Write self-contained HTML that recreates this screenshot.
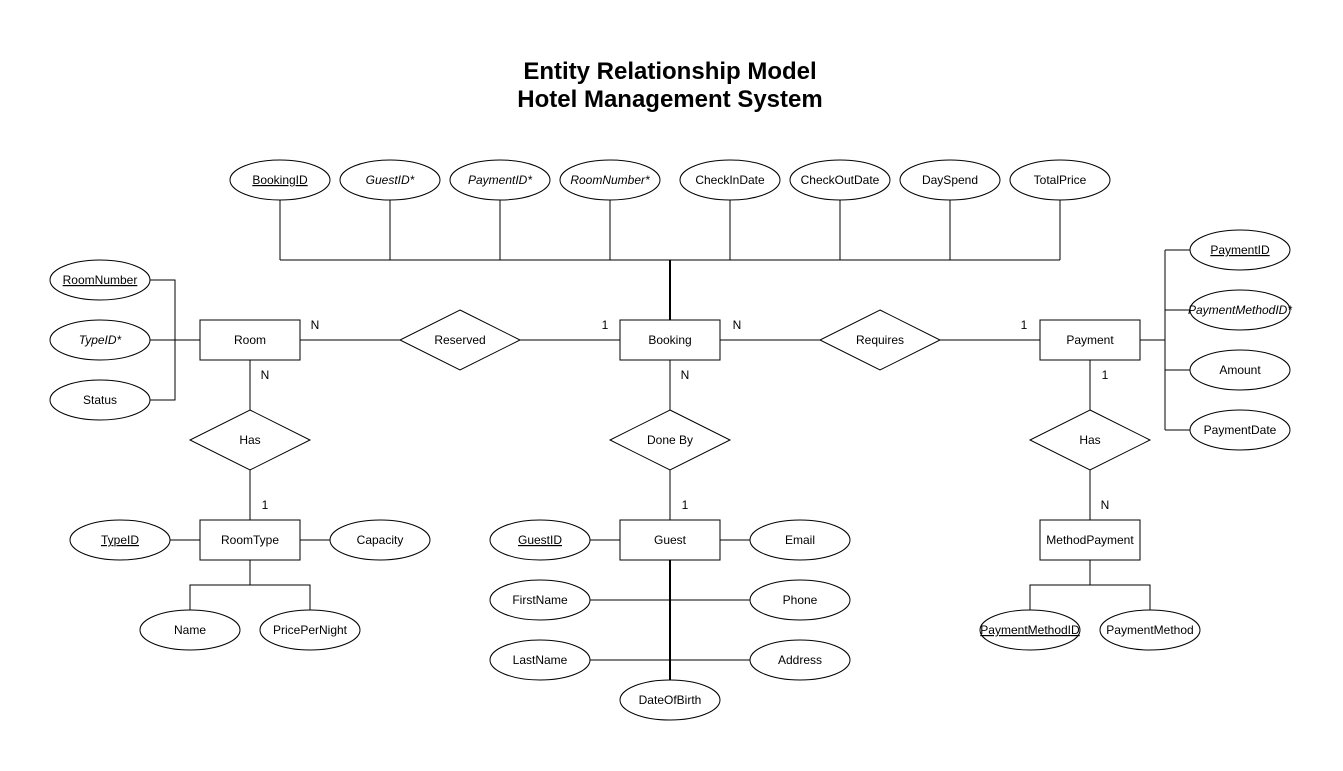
<!DOCTYPE html>
<html><head><meta charset="utf-8"><style>
html,body{margin:0;padding:0;background:#fff;}
svg{display:block;font-family:"Liberation Sans",Arial,sans-serif;}
text{font-size:12px;fill:#000;}
</style></head><body>
<svg width="1343" height="771" viewBox="0 0 1343 771" xmlns="http://www.w3.org/2000/svg">
<rect width="1343" height="771" fill="#fff"/>
<text x="670" y="79" text-anchor="middle" style="font-size:24px;font-weight:bold">Entity Relationship Model</text>
<text x="670" y="107" text-anchor="middle" style="font-size:24px;font-weight:bold">Hotel Management System</text>
<g stroke="#000" stroke-width="1" fill="none">
<path d="M280 200V260M390 200V260M500 200V260M610 200V260M730 200V260M840 200V260M950 200V260M1060 200V260M280 260H1060"/>
<path d="M670 260V320" stroke-width="2"/>
<path d="M300 340H400M520 340H620M720 340H820M940 340H1040"/>
<path d="M150 280H175V400H150M150 340H200"/>
<path d="M250 360V410M250 470V520M170 540H200M300 540H330M250 560V585M190 610V585H310V610"/>
<path d="M670 360V410M670 470V520M590 540H620M720 540H750M590 600H750M590 660H750"/>
<path d="M670 560V680" stroke-width="2"/>
<path d="M1140 340H1165M1165 250V430M1165 250H1190M1165 310H1190M1165 370H1190M1165 430H1190"/>
<path d="M1090 360V410M1090 470V520M1090 560V585M1030 610V585H1150V610"/>
</g>
<g stroke="#000" stroke-width="1" fill="#fff">
<ellipse cx="280" cy="180" rx="50" ry="20"/><ellipse cx="390" cy="180" rx="50" ry="20"/>
<ellipse cx="500" cy="180" rx="50" ry="20"/><ellipse cx="610" cy="180" rx="50" ry="20"/>
<ellipse cx="730" cy="180" rx="50" ry="20"/><ellipse cx="840" cy="180" rx="50" ry="20"/>
<ellipse cx="950" cy="180" rx="50" ry="20"/><ellipse cx="1060" cy="180" rx="50" ry="20"/>
<ellipse cx="100" cy="280" rx="50" ry="20"/><ellipse cx="100" cy="340" rx="50" ry="20"/><ellipse cx="100" cy="400" rx="50" ry="20"/>
<ellipse cx="120" cy="540" rx="50" ry="20"/><ellipse cx="380" cy="540" rx="50" ry="20"/>
<ellipse cx="190" cy="630" rx="50" ry="20"/><ellipse cx="310" cy="630" rx="50" ry="20"/>
<ellipse cx="540" cy="540" rx="50" ry="20"/><ellipse cx="800" cy="540" rx="50" ry="20"/>
<ellipse cx="540" cy="600" rx="50" ry="20"/><ellipse cx="800" cy="600" rx="50" ry="20"/>
<ellipse cx="540" cy="660" rx="50" ry="20"/><ellipse cx="800" cy="660" rx="50" ry="20"/>
<ellipse cx="670" cy="700" rx="50" ry="20"/>
<ellipse cx="1240" cy="250" rx="50" ry="20"/><ellipse cx="1240" cy="310" rx="50" ry="20"/>
<ellipse cx="1240" cy="370" rx="50" ry="20"/><ellipse cx="1240" cy="430" rx="50" ry="20"/>
<ellipse cx="1030" cy="630" rx="50" ry="20"/><ellipse cx="1150" cy="630" rx="50" ry="20"/>
<rect x="200" y="320" width="100" height="40"/><rect x="620" y="320" width="100" height="40"/>
<rect x="1040" y="320" width="100" height="40"/><rect x="200" y="520" width="100" height="40"/>
<rect x="620" y="520" width="100" height="40"/><rect x="1040" y="520" width="100" height="40"/>
<polygon points="460,310 520,340 460,370 400,340"/><polygon points="880,310 940,340 880,370 820,340"/>
<polygon points="250,410 310,440 250,470 190,440"/><polygon points="670,410 730,440 670,470 610,440"/>
<polygon points="1090,410 1150,440 1090,470 1030,440"/>
</g>
<g text-anchor="middle">
<text x="280" y="184" text-decoration="underline">BookingID</text>
<text x="390" y="184" font-style="italic">GuestID*</text>
<text x="500" y="184" font-style="italic">PaymentID*</text>
<text x="610" y="184" font-style="italic">RoomNumber*</text>
<text x="730" y="184">CheckInDate</text><text x="840" y="184">CheckOutDate</text>
<text x="950" y="184">DaySpend</text><text x="1060" y="184">TotalPrice</text>
<text x="100" y="284" text-decoration="underline">RoomNumber</text>
<text x="100" y="344" font-style="italic">TypeID*</text>
<text x="100" y="404">Status</text>
<text x="120" y="544" text-decoration="underline">TypeID</text>
<text x="380" y="544">Capacity</text>
<text x="190" y="634">Name</text><text x="310" y="634">PricePerNight</text>
<text x="540" y="544" text-decoration="underline">GuestID</text><text x="800" y="544">Email</text>
<text x="540" y="604">FirstName</text><text x="800" y="604">Phone</text>
<text x="540" y="664">LastName</text><text x="800" y="664">Address</text>
<text x="670" y="704">DateOfBirth</text>
<text x="1240" y="254" text-decoration="underline">PaymentID</text>
<text x="1240" y="314" font-style="italic">PaymentMethodID*</text>
<text x="1240" y="374">Amount</text><text x="1240" y="434">PaymentDate</text>
<text x="1030" y="634" text-decoration="underline">PaymentMethodID</text>
<text x="1150" y="634">PaymentMethod</text>
<text x="250" y="344">Room</text><text x="670" y="344">Booking</text><text x="1090" y="344">Payment</text>
<text x="250" y="544">RoomType</text><text x="670" y="544">Guest</text><text x="1090" y="544">MethodPayment</text>
<text x="460" y="344">Reserved</text><text x="880" y="344">Requires</text>
<text x="250" y="444">Has</text><text x="670" y="444">Done By</text><text x="1090" y="444">Has</text>
<text x="315" y="329">N</text><text x="605" y="329">1</text>
<text x="737" y="329">N</text><text x="1024" y="329">1</text>
<text x="265" y="379">N</text><text x="265" y="509">1</text>
<text x="685" y="379">N</text><text x="685" y="509">1</text>
<text x="1105" y="379">1</text><text x="1105" y="509">N</text>
</g>
</svg>
</body></html>
